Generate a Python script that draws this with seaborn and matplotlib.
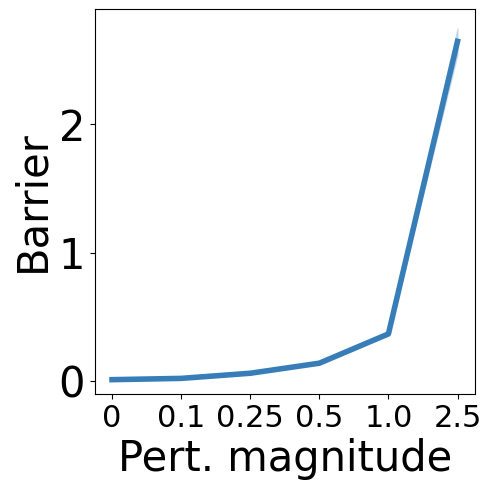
import pandas as pd
import matplotlib
matplotlib.use("Agg")
import matplotlib.pyplot as plt
import seaborn as sns

plt.rcParams["font.family"] = ["DejaVu Sans"]

# perturbation magnitudes (shown as categories)
magnitudes = ["0", "0.1", "0.25", "0.5", "1.0", "2.5"]
# barrier per seed
seed_a = [0.01, 0.02, 0.06, 0.14, 0.37, 2.76]
seed_b = [0.01, 0.02, 0.055, 0.135, 0.36, 2.62]
seed_c = [0.01, 0.02, 0.065, 0.14, 0.37, 2.56]

rows = []
for seed in (seed_a, seed_b, seed_c):
    for m, v in zip(magnitudes, seed):
        rows.append({"Pert. magnitude": m, "Barrier": v})
df = pd.DataFrame(rows)

fig = plt.figure(figsize=(4.91, 4.91), dpi=100)
ax = fig.add_axes([0.193, 0.198, 0.774, 0.784])
sns.lineplot(data=df, x="Pert. magnitude", y="Barrier", errorbar="sd",
             color="#377eb8", linewidth=4, sort=False, ax=ax)
ax.set_xlabel("Pert. magnitude", size=30)
ax.set_ylabel("Barrier", size=30)
ax.tick_params(axis="x", labelsize=22)
ax.tick_params(axis="y", labelsize=30)
ax.set_yticks([0, 1, 2])
ax.set_ylim(-0.1, 2.9)
fig.savefig("out.png", dpi=100)
